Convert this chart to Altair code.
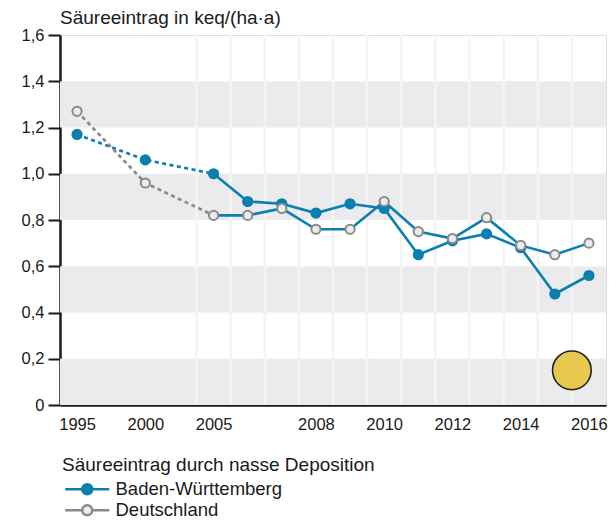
import altair as alt
import pandas as pd

# x slots (ordinal positions on the axis); blanks are spacer slots
x_slots = ["1995", "", "2000", "", "2005", "2006", "2007", "2008", "2009", "2010",
           "2011", "2012", "2013", "2014", "2015", "2016"]
years = ["1995", "2000", "2005", "2006", "2007", "2008", "2009", "2010",
         "2011", "2012", "2013", "2014", "2015", "2016"]
bw_values = [1.17, 1.06, 1.00, 0.88, 0.87, 0.83, 0.87, 0.85, 0.65, 0.71, 0.74, 0.68, 0.48, 0.56]
de_values = [1.27, 0.96, 0.82, 0.82, 0.85, 0.76, 0.76, 0.88, 0.75, 0.72, 0.81, 0.69, 0.65, 0.70]
series_names = ["Baden-Württemberg", "Deutschland"]
x_tick_labels = ["1995", "2000", "2005", "2008", "2010", "2012", "2014", "2016"]
y_ticks = [0, 0.2, 0.4, 0.6, 0.8, 1.0, 1.2, 1.4, 1.6]
band_lo = [0.0, 0.4, 0.8, 1.2]
band_hi = [0.2, 0.6, 1.0, 1.4]
marker_x = [14.5]
marker_y = [0.15]

BLUE = "#0a7fb0"
GRAY = "#8a8a8a"
FONT = "Liberation Sans"
TXT = "#1a1a1a"

pos = {s: i for i, s in enumerate(x_slots) if s}
rows = []
for name, vals in zip(series_names, [bw_values, de_values]):
    for y, v in zip(years, vals):
        rows.append({"series": name, "year": y, "pos": pos[y], "value": v})
df = pd.DataFrame(rows)
early = df[df["pos"] <= pos["2005"]]
late = df[df["pos"] >= pos["2005"]]

label_map = "{" + ",".join(f"'{pos[t]}':'{t}'" for t in x_tick_labels) + "}"

xscale = alt.Scale(domain=[-0.5, len(x_slots) - 0.5], nice=False, zero=False)
yscale = alt.Scale(domain=[0, 1.6], nice=False)

xaxis = alt.Axis(values=[pos[t] for t in x_tick_labels], labelExpr=f"{label_map}[datum.value]",
                 title=None, grid=False, ticks=False, domainColor=TXT, domainWidth=2.5,
                 labelFontSize=16.5, labelColor=TXT, labelPadding=11,
                 labelFont=FONT, labelFlush=False)
yaxis = alt.Axis(values=y_ticks, title=None, grid=False,
                 labelExpr="datum.value == 0 ? '0' : replace(format(datum.value, '.1f'), '.', ',')",
                 domainColor=TXT, domainWidth=2.5, tickColor=TXT, tickWidth=2,
                 tickSize=12, labelFontSize=16.5, labelColor=TXT, labelPadding=4,
                 labelFont=FONT)

bands = alt.Chart(pd.DataFrame({"lo": band_lo, "hi": band_hi})).mark_rect(color="#ebebed").encode(
    y=alt.Y("lo:Q", scale=yscale, axis=yaxis),
    y2="hi:Q",
)

grid_pos = [i + 0.5 for i in range(pos["2005"] - 1, len(x_slots) - 1)]
grid = alt.Chart(pd.DataFrame({"g": grid_pos})).mark_rule(color="#f4f4f5", strokeWidth=2.5).encode(
    x=alt.X("g:Q", scale=xscale, axis=xaxis)
)

dashed_bw = alt.Chart(early[early["series"] == series_names[0]]).mark_line(
    strokeWidth=2.7, strokeDash=[4, 3.5], color=BLUE).encode(
    x=alt.X("pos:Q", scale=xscale),
    y=alt.Y("value:Q", scale=yscale),
)
dashed_de = alt.Chart(early[early["series"] == series_names[1]]).mark_line(
    strokeWidth=2.7, strokeDash=[4, 3.5], color=GRAY).encode(
    x=alt.X("pos:Q", scale=xscale),
    y=alt.Y("value:Q", scale=yscale),
)
solid = alt.Chart(late).mark_line(strokeWidth=2.6, color=BLUE).encode(
    x=alt.X("pos:Q", scale=xscale),
    y=alt.Y("value:Q", scale=yscale),
    detail="series:N",
)

legend_symbol = "M-4.4,0H-1 M1,0H4.4 M1,0A1,1,0,1,1,-1,0A1,1,0,1,1,1,0Z"
legend = alt.Legend(title="Säureeintrag durch nasse Deposition",
                    orient="none", legendX=2, legendY=421,
                    direction="vertical", symbolType=legend_symbol,
                    symbolSize=100, symbolStrokeWidth=2.4,
                    symbolOffset=16, labelOffset=19, padding=0,
                    titleFontSize=19, titleFontWeight="normal",
                    titleFont=FONT, titleColor=TXT, titleLimit=600,
                    titlePadding=5, labelFontSize=18.5, labelLimit=600,
                    labelFont=FONT, labelColor=TXT,
                    rowPadding=0)
points = alt.Chart(df).mark_point(filled=False, size=85, strokeWidth=2, opacity=1).encode(
    x=alt.X("pos:Q", scale=xscale),
    y=alt.Y("value:Q", scale=yscale),
    stroke=alt.Stroke("series:N", scale=alt.Scale(domain=series_names, range=[BLUE, GRAY]),
                      legend=legend),
    fill=alt.Fill("series:N", scale=alt.Scale(domain=series_names, range=[BLUE, "#ebebeb"]),
                  legend=legend),
)

marker = alt.Chart(pd.DataFrame({"mx": marker_x, "my": marker_y})).mark_point(
    filled=True, size=1500, color="#e8c94f", stroke="#222222", strokeWidth=1.6, opacity=1
).encode(
    x=alt.X("mx:Q", scale=xscale),
    y=alt.Y("my:Q", scale=yscale),
)

chart = alt.layer(bands, grid, dashed_bw, dashed_de, solid, points, marker).properties(
    width=546, height=370,
    autosize=alt.AutoSizeParams(type="none"),
    padding={"left": 52, "top": 27, "right": 2, "bottom": 114},
    title=alt.TitleParams("Säureeintrag in keq/(ha·a)", anchor="start", frame="group",
                          fontSize=19, fontWeight="normal", font=FONT,
                          color=TXT, offset=0, dy=1),
).configure_view(stroke="#555555", strokeWidth=1.2).configure(background="white")

chart.save("out.html", embed_options={"renderer": "svg", "actions": False})
